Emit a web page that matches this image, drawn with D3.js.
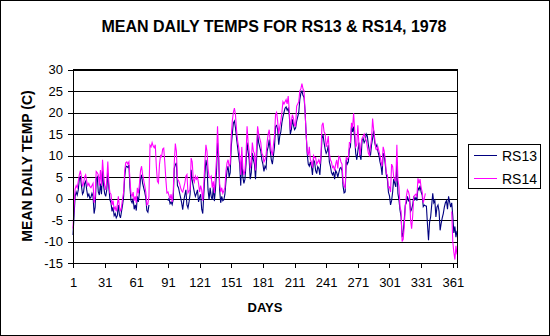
<!DOCTYPE html>
<html>
<head>
<meta charset="utf-8">
<script src="https://cdn.jsdelivr.net/npm/d3@7"></script>
<style>
  body { margin: 0; background: #fff; }
  svg { display: block; font-family: "Liberation Sans", Arial, sans-serif; }
</style>
</head>
<body>
<svg id="chart" width="550" height="336"></svg>
<script>
// ---------------- DATA ----------------
const chartTitle = "MEAN DAILY TEMPS FOR RS13 & RS14, 1978";
const xTitle = "DAYS";
const yTitle = "MEAN DAILY TEMP (C)";
const seriesNames = ["RS13", "RS14"];
const xTickLabels = [1, 31, 61, 91, 121, 151, 181, 211, 241, 271, 301, 331, 361];
const yTickLabels = [-15, -10, -5, 0, 5, 10, 15, 20, 25, 30];

// RS13 daily means, day 1..365 (null = missing)
const rs13 = [
 -8.5,-4,0.5,1.5,0.8,2,4.5,5.2,3,1,
 1.5,3.5,4,2,0.5,1,0,0.3,1.2,0.5,
 -3.5,-2,4.5,5,1.5,0.8,3.5,1,6.5,3,
 1.2,0.5,2,6,2.5,-0.3,-1,-3,-2,-4,
 -3.5,-4.5,-4,-1.5,-3.8,-4.5,-3,-1.5,0.5,5,
 7.3,7.5,7.2,7.8,2.5,-0.5,-1,0,-2.5,-1.5,
 -2.8,0.5,-0.8,1.5,4.5,5.5,3.5,2.5,1.5,0.2,
 -2.8,-3.2,-1.5,null,null,null,null,null,null,null,
 null,null,null,null,null,null,null,null,null,null,
 -0.5,0,-1.2,-0.8,-1.4,-0.2,7,7.8,8.3,3,
 2.5,1.3,0.2,-1,-2.6,-0.5,0.8,2,-1.5,-2.2,
 -0.8,1,6.7,4.2,2.8,1.5,0.5,1.2,2,-0.8,
 0.3,1,-2.5,-3.5,1,5.4,9,7.5,2,-0.3,
 2.5,0.5,-0.3,2.6,-0.6,2,6,13,9.8,2,
 -1,0.5,-0.5,-0.3,1,4,6.5,7.5,5,6,
 12,15,17.5,18,16.5,14,12,10,8,3,
 10,5,3.5,4.5,8,13,11,9,4.5,6,
 10.6,9,8,4.5,9,15,13,12,11,9,
 8,6.3,7.5,7,11,12,13.7,11,9,8,
 10,12,16.8,17,16,12.5,14.5,15.5,17.6,19,
 20,21,21.3,20.5,21,19.5,15,16,18.4,17,
 16,16.4,18,19,20,23,24.5,25,24,23.5,
 20.3,15,10.5,8,7.5,8.5,7.5,5.5,9,8.5,
 6.5,5.8,7.4,7,5.5,9,14,14.8,13,11.5,
 10.5,11,12.4,8.5,7.5,6,5.5,6.2,4.5,6.5,
 6,5,6,7,7.2,6.5,2.8,1.3,1.5,9,
 8,8.5,11.5,12,16.8,15.5,16.7,14,10.5,9,
 11,13,10,9,13.5,14,13,13.5,15,14.5,
 12.5,11,10,12.5,14,15.8,13,12,12.5,11,
 10,8.5,7.5,5.5,10.5,10,8,5.5,4.5,1.5,
 0.6,-1.5,-0.5,1.5,4.5,3.5,2.7,8.5,1.2,-0.4,
 -2.7,-4.3,-9,-8,-5,-1.5,-1,0.5,-0.5,0,
 -3,-2.5,-1.5,0.5,-0.3,0.2,-0.5,2.5,2,3,
 1.5,0.8,-1.9,-1.5,-1.7,-1.8,-6,-9.7,-5.5,-4.3,
 -1.6,1.2,-1,-0.5,-4.3,-2,-1.5,-3,-7.4,-5.8,
 -4.5,-3.5,-2,-1,-0.5,-2.5,0.5,-0.8,-2,-1,
 -4,-8,-6.5,-9,-7.5
];

// RS14 daily means, day 1..365 (null = missing)
const rs14 = [
 -7,-2,2.2,3,2.5,4,5.5,6.5,5,2.8,
 3.5,5,5.5,4,3,3.5,2.8,2.5,3,3.5,
 -1,0.5,6.3,6,5.5,3,6.6,3,9,5.5,
 3,2,4,8.6,3.5,1.3,1,-1.5,-0.5,-2.5,
 -2,-3,-1.5,0.5,-2,-3,-2,0,1.5,6.5,
 8.3,8.5,8,8.5,4.3,1,0.5,1.5,-0.5,0.5,
 -1,2.5,1.2,3.5,6.5,7.5,5.5,4.3,3,1.5,
 -1.5,-1.2,0.5,12.4,12,13,12.2,11.8,12.5,7.5,
 4,3.6,8,10,9.7,11.5,11.7,8.5,4.5,1.3,
 1.5,0.7,0,1,-0.8,1.5,8.3,12.8,11,4.5,
 4.2,3.5,2.5,1.8,1.5,2.5,3.6,5.2,5.6,1.3,
 1.8,2,9.4,8.5,4.5,3.8,5.2,4.5,5,3.5,
 1.5,3,2,-0.5,3.5,8.3,12.5,11,7,5,
 4.8,5.2,2.5,4,1.3,5.2,9,16.8,10.6,3.5,
 1.5,2.5,1.2,1.8,2.5,6.4,8.3,9,7.5,8,
 14.5,18,20,21,19.5,16,13.5,12,10,5.5,
 12,7,5.5,6.5,10,16.8,13,11,7,8.5,
 13,11,10.5,6.5,12,16.8,15,14,13,10.5,
 10,8.5,9,10,13,15,16,13,11,10,
 12.5,14.5,19.5,20,18,15,16.7,18,20,22.5,
 22,22.5,23,22,23.8,20.5,16,18,19.5,18.6,
 17,16.8,21.5,22,22.5,25,25.5,26.7,25.5,25,
 20,15,11,10,12,9,8.5,7.2,10,9.5,
 9.5,8,8.5,9,8,9.8,17,17.6,15.5,15,
 12,13,14.5,10.5,9,8.5,7.2,7.5,6.5,8,
 9,7,9.8,9.5,8.5,8,4,2.9,2.5,9.5,
 9.1,9.5,13,13,17.6,16.5,19.8,16,12,12.5,
 17,12.8,10,12.5,14,14.5,15,14,13.5,12,
 10.5,10,12,13.8,18.6,16,14,11.5,11.3,12,
 11,10,8.5,7.5,12,11,9,5.8,5.5,2.5,
 2.7,1.5,8,7.4,5,4.5,4,12.5,4.3,2.7,
 -2,-3,-10,-9.5,-6.5,-2,0.5,2,1.6,0.5,
 -5,-7,-4,0.5,0.8,1,0.5,4.7,3.5,4.5,
 2.5,1.5,-1,0,1.2,null,null,null,null,null,
 null,null,null,null,null,null,null,null,null,null,
 null,null,null,null,null,null,null,null,null,-3,
 -10,-12.5,-14.2,-11,-13
];

const colors = ["#000080", "#FF00FF"];

// ---------------- LAYOUT ----------------
const svg = d3.select("#chart");
const W = 550, H = 336;
const plot = { left: 73, right: 457, top: 69.5, bottom: 263 };

svg.append("rect").attr("x", 0.5).attr("y", 0.5).attr("width", W - 1).attr("height", H - 1)
  .attr("fill", "#fff").attr("stroke", "#000").attr("stroke-width", 1);

const days = rs13.map((_, i) => i + 1);
const x = d3.scaleLinear().domain([1, 365]).range([plot.left, plot.right]);
const y = d3.scaleLinear().domain([-15, 30]).range([plot.bottom, plot.top]);

// gridlines
svg.append("g")
  .attr("transform", `translate(${plot.left},0)`)
  .call(d3.axisLeft(y).tickValues(yTickLabels).tickSize(-(plot.right - plot.left)).tickFormat(""))
  .call(g => g.select(".domain").remove())
  .call(g => g.selectAll("line").attr("stroke", "#000").attr("stroke-width", 1).attr("shape-rendering", "crispEdges"));

// series lines
const line = d3.line()
  .defined(d => d[1] !== null)
  .x(d => x(d[0]))
  .y(d => y(d[1]));

[rs13, rs14].forEach((s, k) => {
  svg.append("path")
    .datum(days.map((d, i) => [d, s[i]]))
    .attr("fill", "none")
    .attr("stroke", colors[k])
    .attr("stroke-width", 1.1)
    .attr("d", line);
});

// plot border
svg.append("rect")
  .attr("x", plot.left).attr("y", plot.top)
  .attr("width", plot.right - plot.left).attr("height", plot.bottom - plot.top)
  .attr("fill", "none").attr("stroke", "#000").attr("stroke-width", 1)
  .attr("shape-rendering", "crispEdges");

// axes
const yAxis = svg.append("g")
  .attr("transform", `translate(${plot.left},0)`)
  .call(d3.axisLeft(y).tickValues(yTickLabels).tickSize(5).tickPadding(5).tickFormat(d => String(d)));
const xAxis = svg.append("g")
  .attr("transform", `translate(0,${plot.bottom})`)
  .call(d3.axisBottom(x).tickValues(xTickLabels).tickSize(5).tickPadding(10).tickFormat(d => String(d)));
[yAxis, xAxis].forEach(g => {
  g.selectAll("path,line").attr("stroke", "#000").attr("shape-rendering", "crispEdges");
  g.selectAll("text").attr("fill", "#000").attr("font-size", 13)
    .attr("font-family", "'Liberation Sans', Arial, sans-serif");
});

// titles
svg.append("text").attr("x", 274).attr("y", 32).attr("text-anchor", "middle")
  .attr("font-size", 16).attr("font-weight", "bold").text(chartTitle);
svg.append("text").attr("x", 265).attr("y", 312).attr("text-anchor", "middle")
  .attr("font-size", 13).attr("font-weight", "bold").text(xTitle);
svg.append("text").attr("transform", "translate(32,166) rotate(-90)").attr("text-anchor", "middle")
  .attr("font-size", 14).attr("font-weight", "bold").text(yTitle);

// legend
const lg = svg.append("g");
lg.append("rect").attr("x", 468.5).attr("y", 144.5).attr("width", 72).attr("height", 44)
  .attr("fill", "#fff").attr("stroke", "#000").attr("stroke-width", 1);
seriesNames.forEach((n, i) => {
  const yy = 155.5 + i * 23;
  lg.append("line").attr("x1", 474).attr("x2", 497).attr("y1", yy).attr("y2", yy)
    .attr("stroke", colors[i]).attr("stroke-width", 1);
  lg.append("text").attr("x", 502).attr("y", yy + 5).attr("font-size", 14).text(n);
});
</script>
</body>
</html>
